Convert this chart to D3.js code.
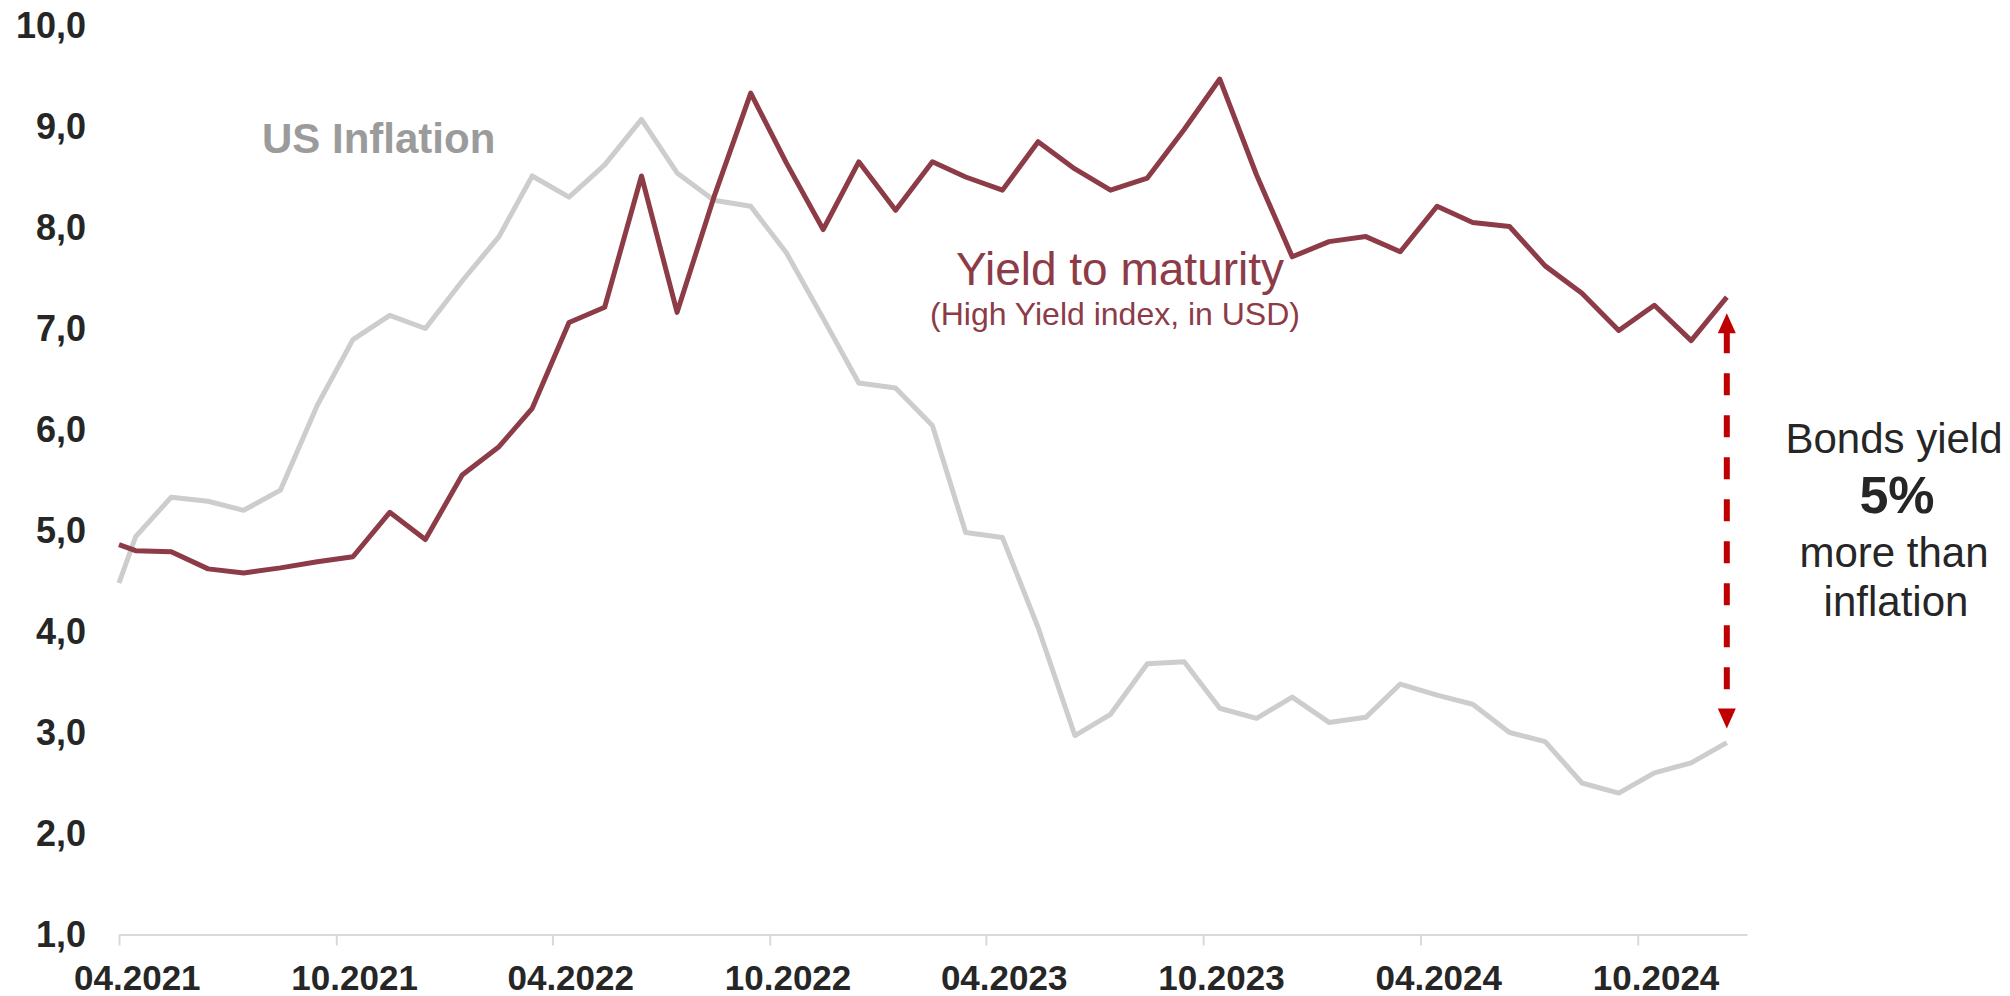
<!DOCTYPE html>
<html>
<head>
<meta charset="utf-8">
<script src="https://cdn.jsdelivr.net/npm/d3@7"></script>
<style>
  html, body { margin: 0; padding: 0; background: #ffffff; }
  svg { display: block; font-family: "Liberation Sans", Arial, sans-serif; }
  .axis-x path, .axis-x line { stroke: #d9d9d9; stroke-width: 2; }
  .tick-label { font-weight: bold; fill: #262626; }
</style>
</head>
<body>
<svg id="chart" width="2010" height="996"></svg>
<script>
const WIDTH = 2010;
const HEIGHT = 996;

// one point per month (mid-month), line starts on the axis origin
const DATES = [
  "2021-04-01",
  "2021-04-15", "2021-05-15", "2021-06-15", "2021-07-15", "2021-08-15", "2021-09-15",
  "2021-10-15", "2021-11-15", "2021-12-15", "2022-01-15", "2022-02-15", "2022-03-15",
  "2022-04-15", "2022-05-15", "2022-06-15", "2022-07-15", "2022-08-15", "2022-09-15",
  "2022-10-15", "2022-11-15", "2022-12-15", "2023-01-15", "2023-02-15", "2023-03-15",
  "2023-04-15", "2023-05-15", "2023-06-15", "2023-07-15", "2023-08-15", "2023-09-15",
  "2023-10-15", "2023-11-15", "2023-12-15", "2024-01-15", "2024-02-15", "2024-03-15",
  "2024-04-15", "2024-05-15", "2024-06-15", "2024-07-15", "2024-08-15", "2024-09-15",
  "2024-10-15", "2024-11-15", "2024-12-15"
];

const US_INFLATION = [
  4.48,
  4.94, 5.33, 5.29, 5.20, 5.40, 6.24,
  6.89, 7.13, 7.00, 7.47, 7.91, 8.51,
  8.30, 8.62, 9.07, 8.54, 8.27, 8.21,
  7.75, 7.10, 6.46, 6.41, 6.04, 4.98,
  4.93, 4.04, 2.97, 3.18, 3.68, 3.70,
  3.24, 3.14, 3.35, 3.10, 3.15, 3.48,
  3.37, 3.28, 3.00, 2.91, 2.50, 2.40,
  2.60, 2.70, 2.90
];

const YIELD_TO_MATURITY = [
  4.86,
  4.80, 4.79, 4.62, 4.58, 4.63, 4.69,
  4.74, 5.18, 4.91, 5.55, 5.83, 6.21,
  7.06, 7.21, 8.51, 7.16, 8.30, 9.33,
  8.64, 7.98, 8.65, 8.17, 8.65, 8.50,
  8.37, 8.85, 8.58, 8.37, 8.49, 8.97,
  9.47, 8.52, 7.71, 7.86, 7.91, 7.76,
  8.21, 8.05, 8.01, 7.62, 7.35, 6.98,
  7.23, 6.88, 7.31
];

const X_TICKS = ["04.2021", "10.2021", "04.2022", "10.2022", "04.2023", "10.2023", "04.2024", "10.2024"];
const Y_TICKS = [1, 2, 3, 4, 5, 6, 7, 8, 9, 10];
const X_DOMAIN = ["04.2021", "01.2025"];

const COLORS = {
  inflation: "#cdcdcd",
  inflationLabel: "#9b9b9b",
  yield: "#8c3b47",
  arrow: "#c00000",
  text: "#262626"
};

const parseDay = d3.timeParse("%Y-%m-%d");
const parseMonth = d3.timeParse("%m.%Y");

const seriesInflation = DATES.map((d, i) => ({ date: parseDay(d), value: US_INFLATION[i] }));
const seriesYield = DATES.map((d, i) => ({ date: parseDay(d), value: YIELD_TO_MATURITY[i] }));

const svg = d3.select("#chart");

const x = d3.scaleTime()
  .domain(X_DOMAIN.map(parseMonth))
  .range([119, 1747]);

const y = d3.scaleLinear()
  .domain([1, 10])
  .range([934.5, 25.5]);

// y labels only, no axis line
svg.append("g")
  .selectAll("text")
  .data(Y_TICKS)
  .join("text")
  .attr("class", "tick-label")
  .attr("x", 86)
  .attr("y", (d) => y(d))
  .attr("dy", "0.36em")
  .attr("text-anchor", "end")
  .style("font-size", "36px")
  .text((d) => d3.format(".1f")(d).replace(".", ","));

const tickDates = X_TICKS.map(parseMonth);
const xAxis = d3.axisBottom(x)
  .tickValues(tickDates)
  .tickSize(11)
  .tickSizeOuter(0)
  .tickFormat("");

const axisG = svg.append("g")
  .attr("class", "axis-x")
  .attr("transform", `translate(0,${y(1)})`)
  .call(xAxis);

// labels sit in the middle of their month
axisG.selectAll(".tick")
  .append("text")
  .attr("class", "tick-label")
  .attr("x", (d) => x(d3.timeDay.offset(d, 15)) - x(d))
  .attr("y", 55)
  .attr("text-anchor", "middle")
  .style("font-size", "35px")
  .text((d, i) => X_TICKS[i]);

const line = d3.line()
  .x((d) => x(d.date))
  .y((d) => y(d.value));

svg.append("path")
  .datum(seriesInflation)
  .attr("fill", "none")
  .attr("stroke", COLORS.inflation)
  .attr("stroke-width", 5)
  .attr("stroke-linejoin", "round")
  .attr("d", line);

svg.append("path")
  .datum(seriesYield)
  .attr("fill", "none")
  .attr("stroke", COLORS.yield)
  .attr("stroke-width", 5)
  .attr("stroke-linejoin", "round")
  .attr("d", line);

// series labels
svg.append("text")
  .attr("x", 262)
  .attr("y", 153)
  .attr("fill", COLORS.inflationLabel)
  .style("font-size", "42px")
  .style("font-weight", "bold")
  .text("US Inflation");

const ytmLabel = svg.append("text")
  .attr("text-anchor", "middle")
  .attr("fill", COLORS.yield);

ytmLabel.append("tspan")
  .attr("x", 1120)
  .attr("y", 285)
  .style("font-size", "46px")
  .text("Yield to maturity");

ytmLabel.append("tspan")
  .attr("x", 1115)
  .attr("y", 325)
  .style("font-size", "32px")
  .text("(High Yield index, in USD)");

// spread arrow between the last two points
const last = seriesYield.length - 1;
const ax = x(seriesYield[last].date);
const topTip = y(seriesYield[last].value) + 16;
const bottomTip = y(seriesInflation[last].value) - 14;
const headLen = 20;
const headHalf = 9;

svg.append("line")
  .attr("x1", ax)
  .attr("x2", ax)
  .attr("y1", topTip + headLen - 2)
  .attr("y2", bottomTip - headLen + 2)
  .attr("stroke", COLORS.arrow)
  .attr("stroke-width", 6)
  .attr("stroke-dasharray", "22 20");

svg.append("path")
  .attr("fill", COLORS.arrow)
  .attr("d", `M${ax},${topTip}L${ax - headHalf},${topTip + headLen}L${ax + headHalf},${topTip + headLen}Z`);

svg.append("path")
  .attr("fill", COLORS.arrow)
  .attr("d", `M${ax},${bottomTip}L${ax - headHalf},${bottomTip - headLen}L${ax + headHalf},${bottomTip - headLen}Z`);

const note = svg.append("text")
  .attr("text-anchor", "middle")
  .attr("fill", COLORS.text)
  .style("font-size", "42px");

note.append("tspan").attr("x", 1894).attr("y", 453).text("Bonds yield");
note.append("tspan").attr("x", 1897).attr("y", 513)
  .style("font-size", "52px").style("font-weight", "bold").text("5%");
note.append("tspan").attr("x", 1894).attr("y", 567).text("more than");
note.append("tspan").attr("x", 1896).attr("y", 616).text("inflation");
</script>
</body>
</html>
